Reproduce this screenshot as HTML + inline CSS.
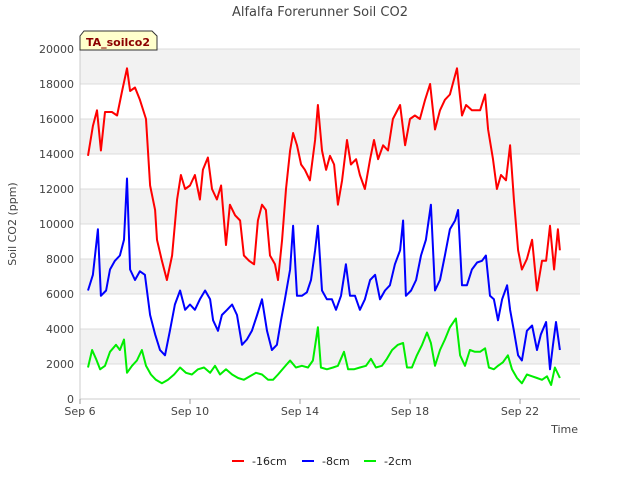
<!DOCTYPE html>
<html><head><meta charset="utf-8"><style>
body{margin:0;background:#fff;font-family:"Liberation Sans","DejaVu Sans",sans-serif;}
svg text{font-family:"DejaVu Sans","Liberation Sans",sans-serif;}
</style></head><body>
<svg id="chart" width="640" height="480" viewBox="0 0 640 480">
<text x="320" y="16" text-anchor="middle" font-size="13" fill="#444">Alfalfa Forerunner Soil CO2</text>
<g id="bands"></g>
<g id="grid"></g>
<g id="yticks"></g>
<g id="xticks"></g>
<g id="series"></g>
<text x="16" y="224" transform="rotate(-90 16 224)" text-anchor="middle" font-size="11" fill="#444">Soil CO2 (ppm)</text>
<text x="578" y="433" text-anchor="end" font-size="11" fill="#444">Time</text>
<g>
<path d="M84,31 L152,31 L157,36 L157,50 L80,50 L80,36 Z" fill="#ffffcc" stroke="#333" stroke-width="1"/>
<text x="118" y="46" text-anchor="middle" font-size="11" font-weight="bold" fill="#8b0000">TA_soilco2</text>
</g>
<g id="legend"></g>
</svg>
<script>
const yTicks=[0,2000,4000,6000,8000,10000,12000,14000,16000,18000,20000];
const xTickDays=[0,4,8,12,16];
const xTickLabels=["Sep 6","Sep 10","Sep 14","Sep 18","Sep 22"];
const seriesNames=["-16cm","-8cm","-2cm"];
const seriesColors=["#ff0000","#0000ff","#00ee00"];
const redT=[.29,.47,.62,.76,.91,1.16,1.35,1.53,1.71,1.82,2.0,2.18,2.4,2.55,2.73,2.8,2.98,3.16,3.35,3.53,3.67,3.82,4.0,4.18,4.36,4.47,4.65,4.8,4.98,5.13,5.31,5.45,5.64,5.82,5.96,6.15,6.33,6.47,6.62,6.76,6.91,7.09,7.2,7.35,7.49,7.64,7.75,7.89,8.04,8.18,8.36,8.55,8.65,8.8,8.95,9.09,9.24,9.38,9.53,9.71,9.85,10.04,10.18,10.36,10.55,10.69,10.84,11.02,11.2,11.38,11.64,11.82,12.0,12.18,12.36,12.55,12.73,12.91,13.09,13.27,13.45,13.71,13.89,14.04,14.25,14.55,14.73,14.84,15.02,15.16,15.31,15.49,15.64,15.78,15.93,16.07,16.25,16.44,16.62,16.8,16.95,17.09,17.24,17.38,17.45];
const redV=[13900,15600,16500,14200,16400,16400,16200,17600,18900,17600,17800,17100,16000,12200,10800,9100,7900,6800,8200,11400,12800,12000,12200,12800,11400,13100,13800,12000,11400,12200,8800,11100,10500,10200,8200,7900,7700,10200,11100,10800,8200,7700,6800,9100,12000,14200,15200,14500,13400,13100,12500,14800,16800,14200,13100,13900,13400,11100,12500,14800,13400,13700,12800,12000,13700,14800,13700,14500,14200,16000,16800,14500,16000,16200,16000,17100,18000,15400,16500,17100,17400,18900,16200,16800,16500,16500,17400,15400,13700,12000,12800,12500,14500,11400,8500,7400,8000,9100,6200,7900,7900,9900,7400,9700,8500];
const blueT=[.29,.47,.65,.76,.95,1.09,1.27,1.45,1.6,1.71,1.82,2.0,2.18,2.36,2.55,2.73,2.91,3.09,3.27,3.45,3.64,3.82,4.0,4.18,4.36,4.55,4.73,4.84,5.02,5.16,5.35,5.53,5.71,5.89,6.07,6.25,6.44,6.62,6.8,6.98,7.16,7.31,7.45,7.64,7.75,7.89,8.07,8.25,8.4,8.55,8.65,8.8,8.98,9.16,9.31,9.49,9.67,9.82,10.0,10.18,10.36,10.55,10.73,10.91,11.09,11.27,11.45,11.64,11.75,11.85,12.04,12.22,12.4,12.58,12.76,12.91,13.09,13.27,13.45,13.64,13.75,13.89,14.07,14.25,14.44,14.62,14.76,14.91,15.05,15.2,15.35,15.53,15.64,15.78,15.93,16.07,16.25,16.44,16.62,16.76,16.95,17.09,17.2,17.31,17.45];
const blueV=[6200,7100,9700,5900,6200,7400,7900,8200,9100,12600,7400,6800,7300,7100,4800,3700,2800,2500,3900,5400,6200,5100,5400,5100,5700,6200,5700,4500,3900,4800,5100,5400,4800,3100,3400,3900,4800,5700,3900,2800,3100,4500,5700,7400,9900,5900,5900,6100,6800,8500,9900,6200,5700,5700,5100,5900,7700,5900,5900,5100,5700,6800,7100,5700,6200,6500,7700,8500,10200,5900,6200,6800,8200,9100,11100,6200,6800,8200,9700,10200,10800,6500,6500,7400,7800,7900,8200,5900,5700,4500,5700,6500,5100,3900,2500,2200,3900,4200,2800,3700,4400,1700,3100,4400,2800];
const greenT=[.29,.44,.58,.73,.91,1.09,1.31,1.45,1.6,1.71,1.89,2.07,2.25,2.4,2.58,2.76,2.98,3.2,3.42,3.64,3.85,4.07,4.29,4.51,4.73,4.91,5.09,5.31,5.53,5.75,5.96,6.18,6.4,6.62,6.84,7.02,7.2,7.42,7.64,7.85,8.07,8.29,8.47,8.65,8.76,8.98,9.2,9.38,9.6,9.75,9.96,10.18,10.4,10.58,10.76,10.98,11.16,11.35,11.56,11.75,11.89,12.07,12.25,12.44,12.62,12.76,12.91,13.09,13.27,13.45,13.67,13.82,14.0,14.18,14.36,14.55,14.73,14.87,15.05,15.2,15.38,15.56,15.71,15.89,16.07,16.25,16.44,16.62,16.8,16.98,17.13,17.27,17.45];
const greenV=[1800,2800,2300,1700,1900,2700,3100,2800,3400,1500,1900,2200,2800,1900,1400,1100,900,1100,1400,1800,1500,1400,1700,1800,1500,1900,1400,1700,1400,1200,1100,1300,1500,1400,1100,1100,1400,1800,2200,1800,1900,1800,2200,4100,1800,1700,1800,1900,2700,1700,1700,1800,1900,2300,1800,1900,2300,2800,3100,3200,1800,1800,2500,3100,3800,3200,1900,2800,3400,4100,4600,2500,1900,2800,2700,2700,2900,1800,1700,1900,2100,2500,1700,1200,900,1400,1300,1200,1100,1300,800,1800,1200];

const NS="http://www.w3.org/2000/svg";
const L=80,R=580,T=49,B=399;
const xMin=0,xMax=500/27.5,yMin=0,yMax=20000;
function xs(d){return L+(d-xMin)/(xMax-xMin)*(R-L);}
function ys(v){return B-(v-yMin)/(yMax-yMin)*(B-T);}
function mk(tag,attrs,parent){const e=document.createElementNS(NS,tag);for(const k in attrs)e.setAttribute(k,attrs[k]);parent.appendChild(e);return e;}
const bands=document.getElementById('bands'),grid=document.getElementById('grid'),yt=document.getElementById('yticks'),xt=document.getElementById('xticks'),ser=document.getElementById('series'),leg=document.getElementById('legend');
mk('rect',{x:L,y:T,width:R-L,height:B-T,fill:'#ffffff'},bands);
for(let i=0;i<yTicks.length-1;i++){
  if(i%2===1){const r=mk('rect',{x:L,y:ys(yTicks[i+1]),width:R-L,height:ys(yTicks[i])-ys(yTicks[i+1]),fill:'#f2f2f2'},bands);
  
  }
}
yTicks.forEach(v=>{
  const g=mk('line',{x1:L,x2:R,y1:ys(v),y2:ys(v),stroke:'#dcdcdc','stroke-width':1},grid);
  
  
  const t=mk('text',{x:L-6,y:ys(v)+4,'text-anchor':'end','font-size':11,fill:'#444'},yt);
  t.textContent=v;
  
  
});
mk('line',{x1:L,x2:L,y1:T,y2:B,stroke:'#ccc'},yt);
mk('line',{x1:L,x2:R,y1:B,y2:B,stroke:'#ccc'},xt);
xTickDays.forEach((d,i)=>{
  mk('line',{x1:xs(d),x2:xs(d),y1:B,y2:B+5,stroke:'#999'},xt);
  const t=mk('text',{x:xs(d),y:B+16,'text-anchor':'middle','font-size':11,fill:'#444'},xt);
  t.textContent=xTickLabels[i];
  
  
});
const allT=[redT,blueT,greenT],allV=[redV,blueV,greenV];
allT.forEach((tt,s)=>{
  const d=tt.map((t,i)=>(i?'L':'M')+xs(t).toFixed(1)+','+ys(allV[s][i]).toFixed(1)).join(' ');
  const p=mk('path',{d:d,fill:'none',stroke:seriesColors[s],'stroke-width':2,'stroke-linejoin':'round'},ser);
  
  
});
const lx=[232,302,364];
seriesNames.forEach((n,i)=>{
  const g=mk('g',{},leg);
  
  
  mk('line',{x1:lx[i],x2:lx[i]+12,y1:461,y2:461,stroke:seriesColors[i],'stroke-width':2},g);
  const t=mk('text',{x:lx[i]+20,y:465,'font-size':11,fill:'#222'},g);
  t.textContent=n;
});
</script>
</body></html>
